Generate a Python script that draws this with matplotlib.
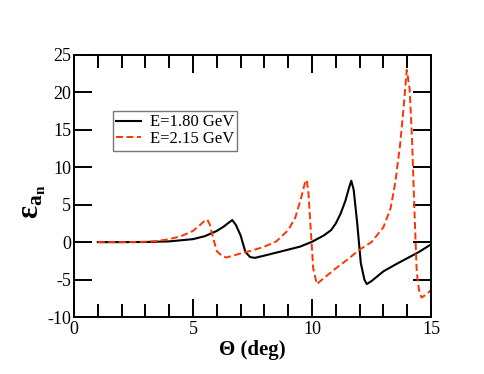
import matplotlib
matplotlib.use("Agg")
import matplotlib.pyplot as plt

plt.rcParams["font.family"] = ["Liberation Serif", "DejaVu Serif"]
plt.rcParams["mathtext.fontset"] = "custom"
plt.rcParams["mathtext.rm"] = "Liberation Serif"
plt.rcParams["mathtext.it"] = "Liberation Serif:italic"
plt.rcParams["mathtext.bf"] = "Liberation Serif:bold"
plt.rcParams["axes.unicode_minus"] = False

# E = 1.80 GeV
theta_180 = [1, 2, 3, 4, 4.5, 5, 5.5, 6, 6.3, 6.5, 6.65, 6.8, 7.0, 7.2, 7.4, 7.6, 8,
             8.5, 9, 9.5, 10, 10.5, 10.8, 11.0, 11.2, 11.4, 11.55, 11.65, 11.75, 11.9,
             12.05, 12.2, 12.3, 12.5, 13, 13.5, 14, 14.5, 15]
eps_180 = [0, 0, 0.02, 0.1, 0.25, 0.4, 0.8, 1.5, 2.1, 2.6, 2.95, 2.3, 0.9, -1.3, -2.0,
           -2.1, -1.8, -1.4, -1.0, -0.6, 0.05, 0.9, 1.6, 2.5, 3.8, 5.5, 7.2, 8.2, 7.0,
           2.5, -2.8, -5.0, -5.6, -5.2, -3.9, -3.0, -2.15, -1.3, -0.3]

# E = 2.15 GeV
theta_215 = [1, 2, 3, 3.5, 4, 4.5, 5, 5.3, 5.5, 5.6, 5.7, 5.85, 6.0, 6.2, 6.4, 6.7, 7,
             7.5, 8, 8.5, 9, 9.3, 9.55, 9.7, 9.78, 9.85, 9.95, 10.05, 10.2, 10.5, 11,
             11.5, 12, 12.5, 13, 13.3, 13.5, 13.7, 13.85, 13.98, 14.1, 14.2, 14.3, 14.4,
             14.5, 14.6, 14.8, 15]
eps_215 = [0, 0, 0.05, 0.15, 0.4, 0.8, 1.5, 2.3, 2.9, 3.0, 2.4, 0.5, -1.2, -1.8, -2.05,
           -1.8, -1.5, -1.1, -0.6, 0.1, 1.6, 3.3, 6.0, 7.9, 8.3, 6.5, 1.5, -3.5, -5.6,
           -4.8, -3.5, -2.3, -1.0, 0.0, 2.0, 4.5, 8, 13, 18, 23, 20.5, 14, 4.5, -4,
           -6.5, -7.4, -7.0, -6.4]

fig = plt.figure(figsize=(4.85, 3.74), dpi=100)
ax = fig.add_axes([0.1526, 0.1524, 0.7361, 0.7006])

ax.plot(theta_180, eps_180, color="black", lw=1.5, label="E=1.80 GeV")
ax.plot(theta_215, eps_215, color="#ff3300", lw=1.4, dashes=(3.6, 1.8), label="E=2.15 GeV")

ax.set_xlim(0, 15)
ax.set_ylim(-10, 25)
ax.set_xticks([0, 5, 10, 15])
ax.set_xticks(range(0, 16), minor=True)
ax.set_yticks(range(-10, 26, 5))
ax.tick_params(which="both", direction="in", top=True, right=True, width=1.4, labelsize=13)
ax.tick_params(which="major", length=13.3)
ax.tick_params(which="minor", length=9.4)
ax.tick_params(axis="y", pad=2)
ax.tick_params(axis="x", pad=3)
for s in ax.spines.values():
    s.set_linewidth(1.4)

ax.set_xlabel("Θ (deg)", fontsize=15, fontweight="bold", labelpad=1)
ax.set_ylabel(r"$\mathbf{ε_{a_n}}$", fontsize=22)
ax.yaxis.set_label_coords(-0.072, 0.44)

leg = ax.legend(loc="upper left", bbox_to_anchor=(0.109, 0.786), borderaxespad=0,
                fontsize=12, fancybox=False, framealpha=1, edgecolor="#777777",
                handlelength=1.5, handletextpad=0.5, labelspacing=0.05, borderpad=0.2)
leg.get_frame().set_linewidth(1.0)

fig.savefig("out.png", dpi=100)
